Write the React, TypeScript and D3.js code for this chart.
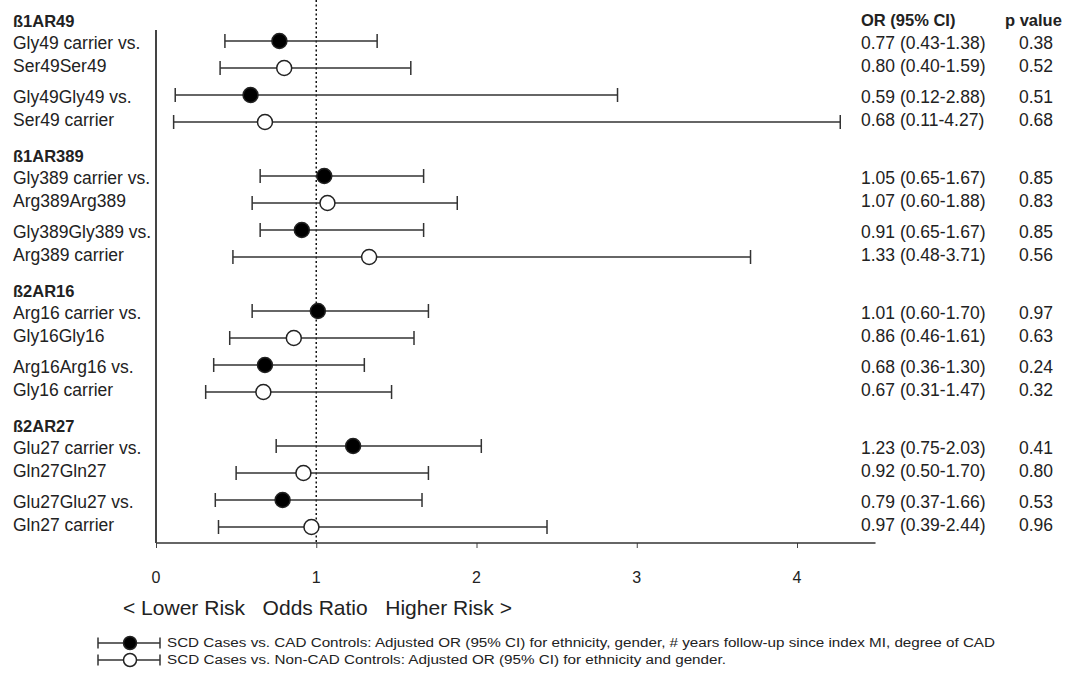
import React, { useEffect, useRef } from "react"
import * as d3 from "d3"

const groupNames = ["ß1AR49", "ß1AR389", "ß2AR16", "ß2AR27"]
const rowLabels = [
  "Gly49 carrier vs.", "Ser49Ser49", "Gly49Gly49 vs.", "Ser49 carrier",
  "Gly389 carrier vs.", "Arg389Arg389", "Gly389Gly389 vs.", "Arg389 carrier",
  "Arg16 carrier vs.", "Gly16Gly16", "Arg16Arg16 vs.", "Gly16 carrier",
  "Glu27 carrier vs.", "Gln27Gln27", "Glu27Glu27 vs.", "Gln27 carrier",
]
const orValues = [0.77, 0.80, 0.59, 0.68, 1.05, 1.07, 0.91, 1.33, 1.01, 0.86, 0.68, 0.67, 1.23, 0.92, 0.79, 0.97]
const ciLow = [0.43, 0.40, 0.12, 0.11, 0.65, 0.60, 0.65, 0.48, 0.60, 0.46, 0.36, 0.31, 0.75, 0.50, 0.37, 0.39]
const ciHigh = [1.38, 1.59, 2.88, 4.27, 1.67, 1.88, 1.67, 3.71, 1.70, 1.61, 1.30, 1.47, 2.03, 1.70, 1.66, 2.44]
const pValues = ["0.38", "0.52", "0.51", "0.68", "0.85", "0.83", "0.85", "0.56", "0.97", "0.63", "0.24", "0.32", "0.41", "0.80", "0.53", "0.96"]
const model = ["cad", "noncad", "cad", "noncad", "cad", "noncad", "cad", "noncad", "cad", "noncad", "cad", "noncad", "cad", "noncad", "cad", "noncad"]
const xTicks = [0, 1, 2, 3, 4]
const legendLabels = [
  "SCD Cases vs. CAD Controls: Adjusted OR (95% CI) for ethnicity, gender, # years follow-up since index MI, degree of CAD",
  "SCD Cases vs. Non-CAD Controls: Adjusted OR (95% CI) for ethnicity and gender.",
]

const W = 1077
const H = 683
const FONT = "'Liberation Sans', Arial, sans-serif"
const INK = "#222"

export default function App() {
  const ref = useRef(null)

  useEffect(() => {
    const svg = d3.select(ref.current)
    svg.selectAll("*").remove()

    const x = d3.scaleLinear().domain([0, 4]).range([156, 797])
    // slot index -> y; each group takes 5 slots (header + 4 rows)
    const y = d3.scaleLinear().domain([0, 19]).range([41, 41 + 27 * 19])
    const rowY = (i) => y(Math.floor(i / 4) * 5 + (i % 4))
    const axisY = 543

    const txt = (s, tx, ty, size, weight = "normal", anchor = "start") =>
      svg.append("text")
        .attr("x", tx).attr("y", ty)
        .attr("font-family", FONT)
        .attr("font-size", size)
        .attr("font-weight", weight)
        .attr("fill", INK)
        .attr("text-anchor", anchor)
        .attr("dominant-baseline", "central")
        .text(s)

    // headers
    groupNames.forEach((name, g) => {
      txt(name, 13, y(g * 5 - 0.75), 16.5, "bold")
    })
    txt("OR (95% CI)", 861, 20, 16.5, "bold")
    txt("p value", 1005, 20, 16.5, "bold")

    // row labels and table
    rowLabels.forEach((lab, i) => {
      const off = i % 2 === 0 ? 2 : -2
      txt(lab, 13, rowY(i) + off, 17.5)
      txt(`${orValues[i].toFixed(2)} (${ciLow[i].toFixed(2)}-${ciHigh[i].toFixed(2)})`, 861, rowY(i) + off, 17.5)
      txt(pValues[i], 1036, rowY(i) + off, 17.5, "normal", "middle")
    })

    // axes
    const xAxis = d3.axisBottom(x)
      .tickValues(xTicks).tickSizeOuter(0).tickSize(5).tickFormat(() => "")
    const ax = svg.append("g").attr("transform", `translate(0,${axisY})`).call(xAxis)
    ax.select(".domain").remove()
    ax.selectAll(".tick line").attr("stroke", "#444")
    svg.append("line")
      .attr("x1", x(0)).attr("x2", x(4.49)).attr("y1", axisY).attr("y2", axisY)
      .attr("stroke", "#333").attr("stroke-width", 1.5)
    xTicks.forEach((t) => txt(String(t), x(t), 577, 16, "normal", "middle"))

    svg.append("line")
      .attr("x1", x(0)).attr("x2", x(0)).attr("y1", 30).attr("y2", axisY)
      .attr("stroke", "#444").attr("stroke-width", 2)

    svg.append("line")
      .attr("x1", x(1)).attr("x2", x(1)).attr("y1", 0).attr("y2", axisY)
      .attr("stroke", "#111").attr("stroke-width", 1.5).attr("stroke-dasharray", "2,2.5")

    svg.append("text")
      .attr("x", 123).attr("y", 607)
      .attr("font-family", FONT).attr("font-size", 21).attr("fill", INK)
      .attr("dominant-baseline", "central")
      .attr("textLength", 389).attr("lengthAdjust", "spacingAndGlyphs")
      .attr("xml:space", "preserve")
      .text("< Lower Risk   Odds Ratio   Higher Risk >")

    // CI bars and points
    const rows = svg.append("g")
    rowLabels.forEach((_, i) => {
      const cy = rowY(i)
      const g = rows.append("g").attr("stroke", "#333").attr("stroke-width", 1.5)
      g.append("line").attr("x1", x(ciLow[i])).attr("x2", x(ciHigh[i])).attr("y1", cy).attr("y2", cy)
      g.append("line").attr("x1", x(ciLow[i])).attr("x2", x(ciLow[i])).attr("y1", cy - 7).attr("y2", cy + 7)
      g.append("line").attr("x1", x(ciHigh[i])).attr("x2", x(ciHigh[i])).attr("y1", cy - 7).attr("y2", cy + 7)
      g.append("circle").attr("cx", x(orValues[i])).attr("cy", cy).attr("r", 7.5)
        .attr("fill", model[i] === "cad" ? "#000" : "#fff").attr("stroke", "#222")
    })

    // legend
    legendLabels.forEach((lab, i) => {
      const ly = 643 + i * 17
      const g = svg.append("g").attr("stroke", "#333").attr("stroke-width", 1.5)
      g.append("line").attr("x1", 98).attr("x2", 160).attr("y1", ly).attr("y2", ly)
      g.append("line").attr("x1", 98).attr("x2", 98).attr("y1", ly - 5.5).attr("y2", ly + 5.5)
      g.append("line").attr("x1", 160).attr("x2", 160).attr("y1", ly - 5.5).attr("y2", ly + 5.5)
      g.append("circle").attr("cx", 130).attr("cy", ly).attr("r", 6.5)
        .attr("fill", i === 0 ? "#000" : "#fff").attr("stroke", "#222")
      svg.append("text")
        .attr("x", 167).attr("y", ly)
        .attr("font-family", FONT).attr("font-size", 12).attr("fill", INK)
        .attr("dominant-baseline", "central")
        .attr("textLength", i === 0 ? 828 : 559).attr("lengthAdjust", "spacingAndGlyphs")
        .text(lab)
    })
  }, [])

  return (
    <svg ref={ref} width={W} height={H}
      style={{ position: "absolute", left: 0, top: 0, background: "#fff", display: "block" }} />
  )
}
